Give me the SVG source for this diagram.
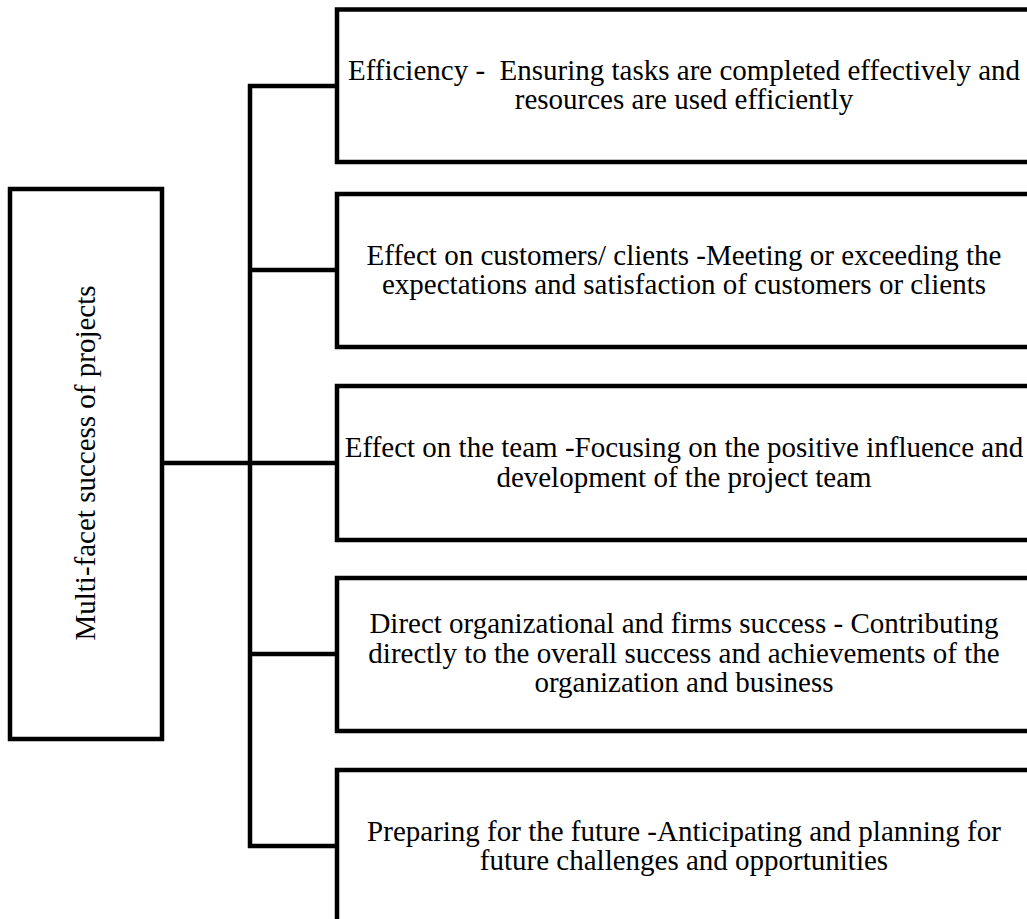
<svg xmlns="http://www.w3.org/2000/svg" width="1027" height="919" viewBox="0 0 1027 919">
<style>
.box{fill:#fff;stroke:#000;stroke-width:4.5}
.ln{fill:none;stroke:#000;stroke-width:4.5}
text{font-family:"Liberation Serif","Times New Roman",serif;font-size:29px;fill:#000}
.c{text-anchor:middle}
</style>
<rect width="1027" height="919" fill="#fff"/>
<g id="connectors">
<line class="ln" x1="162" y1="463" x2="250" y2="463"/>
<line class="ln" x1="250" y1="84" x2="250" y2="848"/>
<line class="ln" x1="248" y1="86" x2="337" y2="86"/>
<line class="ln" x1="248" y1="270" x2="337" y2="270"/>
<line class="ln" x1="248" y1="463" x2="337" y2="463"/>
<line class="ln" x1="248" y1="654" x2="337" y2="654"/>
<line class="ln" x1="248" y1="846" x2="337" y2="846"/>
</g>
<g id="root">
<rect class="box" x="10" y="189" width="152" height="550"/>
<text class="c" transform="translate(95,463) rotate(-90)">Multi-facet success of projects</text>
</g>
<g id="efficiency">
<rect class="box" x="337" y="9.5" width="710" height="152.5"/>
<text class="c" x="684" y="79.5" xml:space="preserve">Efficiency -  Ensuring tasks are completed effectively and</text>
<text class="c" x="684" y="108.5">resources are used efficiently</text>
</g>
<g id="customers">
<rect class="box" x="337" y="194" width="710" height="153"/>
<text class="c" x="684" y="265">Effect on customers/ clients -Meeting or exceeding the</text>
<text class="c" x="684" y="294">expectations and satisfaction of customers or clients</text>
</g>
<g id="team">
<rect class="box" x="337" y="386" width="710" height="154"/>
<text class="c" x="684" y="457">Effect on the team -Focusing on the positive influence and</text>
<text class="c" x="684" y="486.5">development of the project team</text>
</g>
<g id="organization">
<rect class="box" x="337" y="578" width="710" height="153"/>
<text class="c" x="684" y="633">Direct organizational and firms success - Contributing</text>
<text class="c" x="684" y="662.5">directly to the overall success and achievements of the</text>
<text class="c" x="684" y="692">organization and business</text>
</g>
<g id="future">
<rect class="box" x="337" y="770" width="710" height="160"/>
<text class="c" x="684" y="841">Preparing for the future -Anticipating and planning for</text>
<text class="c" x="684" y="870">future challenges and opportunities</text>
</g>
</svg>
